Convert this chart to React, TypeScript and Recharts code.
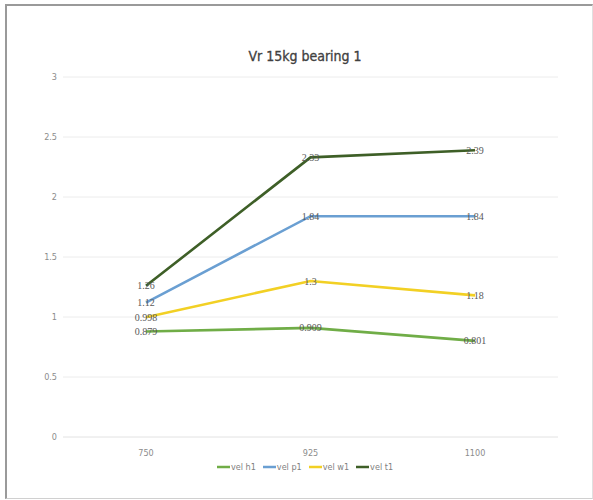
import React from 'react';
import { LineChart, Line, XAxis, YAxis, CartesianGrid, Legend, LabelList } from 'recharts';

const categories = ['750', '925', '1100'];
const velH1 = [0.879, 0.909, 0.801];
const velP1 = [1.12, 1.84, 1.84];
const velW1 = [0.998, 1.3, 1.18];
const velT1 = [1.26, 2.33, 2.39];
const yTicks = [0, 0.5, 1, 1.5, 2, 2.5, 3];

const seriesDefs = [
  { key: 'vel h1', values: velH1, color: '#70AD47' },
  { key: 'vel p1', values: velP1, color: '#6A9FD2' },
  { key: 'vel w1', values: velW1, color: '#F2D024' },
  { key: 'vel t1', values: velT1, color: '#3E5F27' },
];
const seriesOrder = seriesDefs.map((s) => s.key);

const data = categories.map((c, i) => {
  const row: any = { cat: c };
  seriesDefs.forEach((s) => (row[s.key] = s.values[i]));
  return row;
});

const tickFont = "'DejaVu Sans Condensed', 'Liberation Sans Narrow', sans-serif";

const renderLegend = (props: any) => {
  const payload = [...(props.payload || [])].sort(
    (a: any, b: any) => seriesOrder.indexOf(a.value) - seriesOrder.indexOf(b.value)
  );
  return (
    <div style={{ display: 'flex', justifyContent: 'center', alignItems: 'center', fontFamily: tickFont, fontSize: 9, color: '#7f7f7f', paddingLeft: 24 }}>
      {payload.map((p: any) => (
        <div key={p.value} style={{ display: 'flex', alignItems: 'center', marginRight: 7 }}>
          <svg width={13} height={6} style={{ marginRight: 1 }}>
            <line x1={0} y1={3} x2={13} y2={3} stroke={p.color} strokeWidth={2.5} />
          </svg>
          <span>{p.value}</span>
        </div>
      ))}
    </div>
  );
};

export default function App() {
  return (
    <div style={{ position: 'absolute', left: 0, top: 0, width: 593, height: 500, background: '#fff' }}>
      <div
        style={{
          position: 'absolute',
          left: 5,
          top: 4,
          width: 585,
          height: 492,
          borderLeft: '2px solid #9a9a9a',
          borderTop: '2px solid #9a9a9a',
          borderRight: '1px solid #e0e0e0',
          borderBottom: '1px solid #d0d0d0',
        }}
      />
      <div
        style={{
          position: 'absolute',
          left: 205,
          top: 48,
          width: 200,
          textAlign: 'center',
          fontFamily: tickFont,
          fontSize: 14,
          color: '#404040',
          WebkitTextStroke: '0.3px #404040',
        }}
      >
        Vr 15kg bearing 1
      </div>
      <div style={{ position: 'absolute', left: 0, top: 0 }}>
        <LineChart width={593} height={500} data={data} margin={{ top: 77, right: 35, bottom: 23, left: 0 }}>
          <CartesianGrid vertical={false} stroke="#ececec" strokeWidth={1} />
          <XAxis
            dataKey="cat"
            padding={{ left: 83, right: 83 }}
            axisLine={{ stroke: '#ececec' }}
            tickLine={false}
            tickSize={6}
            tickMargin={7}
            tick={{ fontFamily: tickFont, fontSize: 9, fill: '#8c8c8c' }}
          />
          <YAxis
            width={63}
            domain={[0, 3]}
            ticks={yTicks}
            axisLine={false}
            tickLine={false}
            tickSize={6}
            tickMargin={0}
            tick={{ fontFamily: tickFont, fontSize: 9, fill: '#8c8c8c' }}
          />
          <Legend content={renderLegend} verticalAlign="bottom" wrapperStyle={{ bottom: 28, left: 0, width: 593 }} />
          {seriesDefs.map((s) => (
            <Line
              key={s.key}
              dataKey={s.key}
              name={s.key}
              stroke={s.color}
              strokeWidth={2.6}
              dot={false}
              isAnimationActive={false}
            >
              <LabelList
                dataKey={s.key}
                position="center"
                style={{ fontFamily: "'Liberation Serif', serif", fontSize: 10, fill: '#595959' }}
              />
            </Line>
          ))}
        </LineChart>
      </div>
    </div>
  );
}
